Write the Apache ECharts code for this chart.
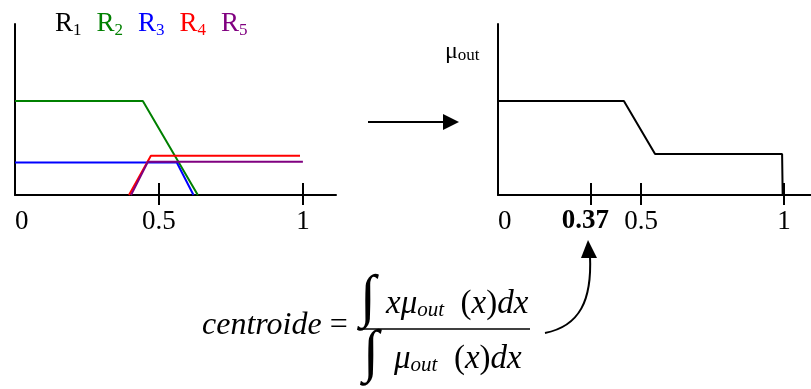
<!DOCTYPE html>
<html>
<head>
<meta charset="utf-8">
<script src="https://cdn.jsdelivr.net/npm/echarts@6/dist/echarts.min.js"></script>
<style>
  html, body { margin: 0; padding: 0; background: #fff; }
  #main { width: 811px; height: 389px; }
</style>
</head>
<body>
<div id="main"></div>
<script>
// rule outputs (x, membership)
var ruleNames = ["R1", "R2", "R3", "R4", "R5"];
var ruleColors = ["#000000", "#008000", "#0000ff", "#ff0000", "#800080"];
var r1 = [];
var r2 = [[0, 0.55], [0.444, 0.55], [0.635, 0]];
var r3 = [[0, 0.19], [0.562, 0.19], [0.62, 0]];
var r4 = [[0.396, 0], [0.472, 0.23], [0.99, 0.23]];
var r5 = [[0.403, 0], [0.462, 0.195], [1.0, 0.195]];

// aggregated output
var muOut = [[0, 0.55], [0.44, 0.55], [0.549, 0.24], [0.993, 0.24], [0.995, 0]];

// tick marks / labels
var leftTicks = [0.5, 1];
var leftLabelValues = [0, 0.5, 1];
var leftLabels = ["0", "0.5", "1"];
// the 0.37 tick sits where the drawing puts it
var rightTicks = [0.325, 0.5, 1];
var rightLabelValues = [0, 0.325, 0.5, 1];
var rightLabels = ["0", "0.37", "0.5", "1"];

var serif = "'Liberation Serif', 'Times New Roman', serif";
var myChart = echarts.init(document.getElementById("main"));

function baseX(grid, max, ticks, inside, labelValues, labels) {
  var ax = {
    type: "value",
    gridIndex: grid,
    min: 0,
    max: max,
    position: "bottom",
    splitLine: { show: false },
    axisLine: { show: !inside, onZero: false, lineStyle: { color: "#000", width: 2 } },
    axisTick: {
      show: true,
      inside: inside,
      length: inside ? 12 : 10,
      customValues: ticks,
      lineStyle: { color: "#000", width: 2 }
    },
    axisLabel: { show: false }
  };
  if (!inside) {
    ax.axisLabel = {
      show: true,
      customValues: labelValues,
      alignMinLabel: "left",
      margin: 13,
      fontFamily: serif,
      fontSize: 27,
      color: "#000",
      formatter: function(v) {
        var s = labels[labelValues.indexOf(v)];
        return s === "0.37" ? "{b|" + s + "}" : s;
      },
      rich: {
        b: { fontFamily: serif, fontSize: 27, fontWeight: "bold", color: "#000", padding: [0, 11, 0, 0] }
      }
    };
  }
  return ax;
}

function baseY(grid) {
  return {
    type: "value",
    gridIndex: grid,
    min: 0,
    max: 1,
    splitLine: { show: false },
    axisTick: { show: false },
    axisLabel: { show: false },
    axisLine: { show: true, lineStyle: { color: "#000", width: 2 } }
  };
}

var ruleData = [r1, r2, r3, r4, r5];
var series = [];
for (var i = 0; i < ruleNames.length; i++) {
  series.push({
    name: ruleNames[i],
    type: "line",
    xAxisIndex: 0,
    yAxisIndex: 0,
    data: ruleData[i],
    symbol: "none",
    color: ruleColors[i],
    lineStyle: { color: ruleColors[i], width: 2 }
  });
}
series.push({
  name: "out",
  type: "line",
  xAxisIndex: 2,
  yAxisIndex: 1,
  data: muOut,
  symbol: "none",
  lineStyle: { color: "#000", width: 2 }
});

var legendData = [];
for (var j = 0; j < ruleNames.length; j++) {
  legendData.push({ name: ruleNames[j], textStyle: { color: ruleColors[j] } });
}

var formulaRich = {
  i: { fontFamily: serif, fontSize: 33, fontStyle: "italic" },
  r: { fontFamily: serif, fontSize: 33 },
  s: { fontFamily: serif, fontSize: 21, fontStyle: "italic", verticalAlign: "bottom", lineHeight: 16 }
};

var option = {
  animation: false,
  backgroundColor: "#fff",
  grid: [
    { left: 15, top: 24, width: 321, height: 171 },
    { left: 498, top: 24, width: 313, height: 171 }
  ],
  legend: {
    data: legendData,
    left: 45,
    top: 4,
    icon: "none",
    itemWidth: 0,
    itemGap: 10,
    selectedMode: false,
    formatter: function(name) {
      return "R{s|" + name.slice(1) + "}";
    },
    textStyle: {
      fontFamily: serif,
      fontSize: 27,
      lineHeight: 30,
      rich: {
        s: { fontFamily: serif, fontSize: 17, lineHeight: 12, verticalAlign: "bottom" }
      }
    }
  },
  xAxis: [
    baseX(0, 1.115, leftTicks, false, leftLabelValues, leftLabels),
    baseX(0, 1.115, leftTicks, true),
    baseX(1, 1.094, rightTicks, false, rightLabelValues, rightLabels),
    baseX(1, 1.094, rightTicks, true)
  ],
  yAxis: [baseY(0), baseY(1)],
  series: series,
  graphic: [
    // mu_out axis name
    {
      type: "text", left: 445, top: 40,
      style: {
        text: "μ{s|out}", fontFamily: serif, fontSize: 24, fill: "#000",
        rich: { s: { fontFamily: serif, fontSize: 17, verticalAlign: "bottom", lineHeight: 12 } }
      }
    },
    // arrow between the charts
    { type: "line", shape: { x1: 368, y1: 122, x2: 446, y2: 122 }, style: { stroke: "#000", lineWidth: 2 } },
    { type: "polygon", shape: { points: [[443, 114], [459, 122], [443, 130]] }, style: { fill: "#000" } },
    // formula
    {
      type: "text", x: 202, y: 326,
      style: {
        text: "{i|centroide} =", fontFamily: serif, fontSize: 32, fill: "#000", verticalAlign: "middle",
        rich: { i: { fontFamily: serif, fontSize: 32, fontStyle: "italic" } }
      }
    },
    { type: "text", x: 360, y: 300, style: { text: "∫", fontFamily: serif, fontSize: 58, fill: "#000", verticalAlign: "middle" } },
    {
      type: "text", x: 386, y: 304,
      style: {
        text: "{i|xμ}{s|out}  {r|(}{i|x}{r|)}{i|dx}", fontFamily: serif, fontSize: 33, fill: "#000", verticalAlign: "middle",
        rich: formulaRich
      }
    },
    { type: "line", shape: { x1: 363, y1: 329, x2: 530, y2: 329 }, style: { stroke: "#000", lineWidth: 1.5 } },
    { type: "text", x: 363, y: 355, style: { text: "∫", fontFamily: serif, fontSize: 58, fill: "#000", verticalAlign: "middle" } },
    {
      type: "text", x: 394, y: 359,
      style: {
        text: "{i|μ}{s|out}  {r|(}{i|x}{r|)}{i|dx}", fontFamily: serif, fontSize: 33, fill: "#000", verticalAlign: "middle",
        rich: formulaRich
      }
    },
    // curved arrow to the centroid
    {
      type: "bezierCurve",
      shape: { x1: 545, y1: 333, cpx1: 580, cpy1: 326, cpx2: 592, cpy2: 300, x2: 590, y2: 256 },
      style: { stroke: "#000", lineWidth: 2, fill: null }
    },
    { type: "polygon", shape: { points: [[588, 240], [581, 258], [597, 258]] }, style: { fill: "#000" } }
  ]
};
myChart.setOption(option);
</script>
</body>
</html>
